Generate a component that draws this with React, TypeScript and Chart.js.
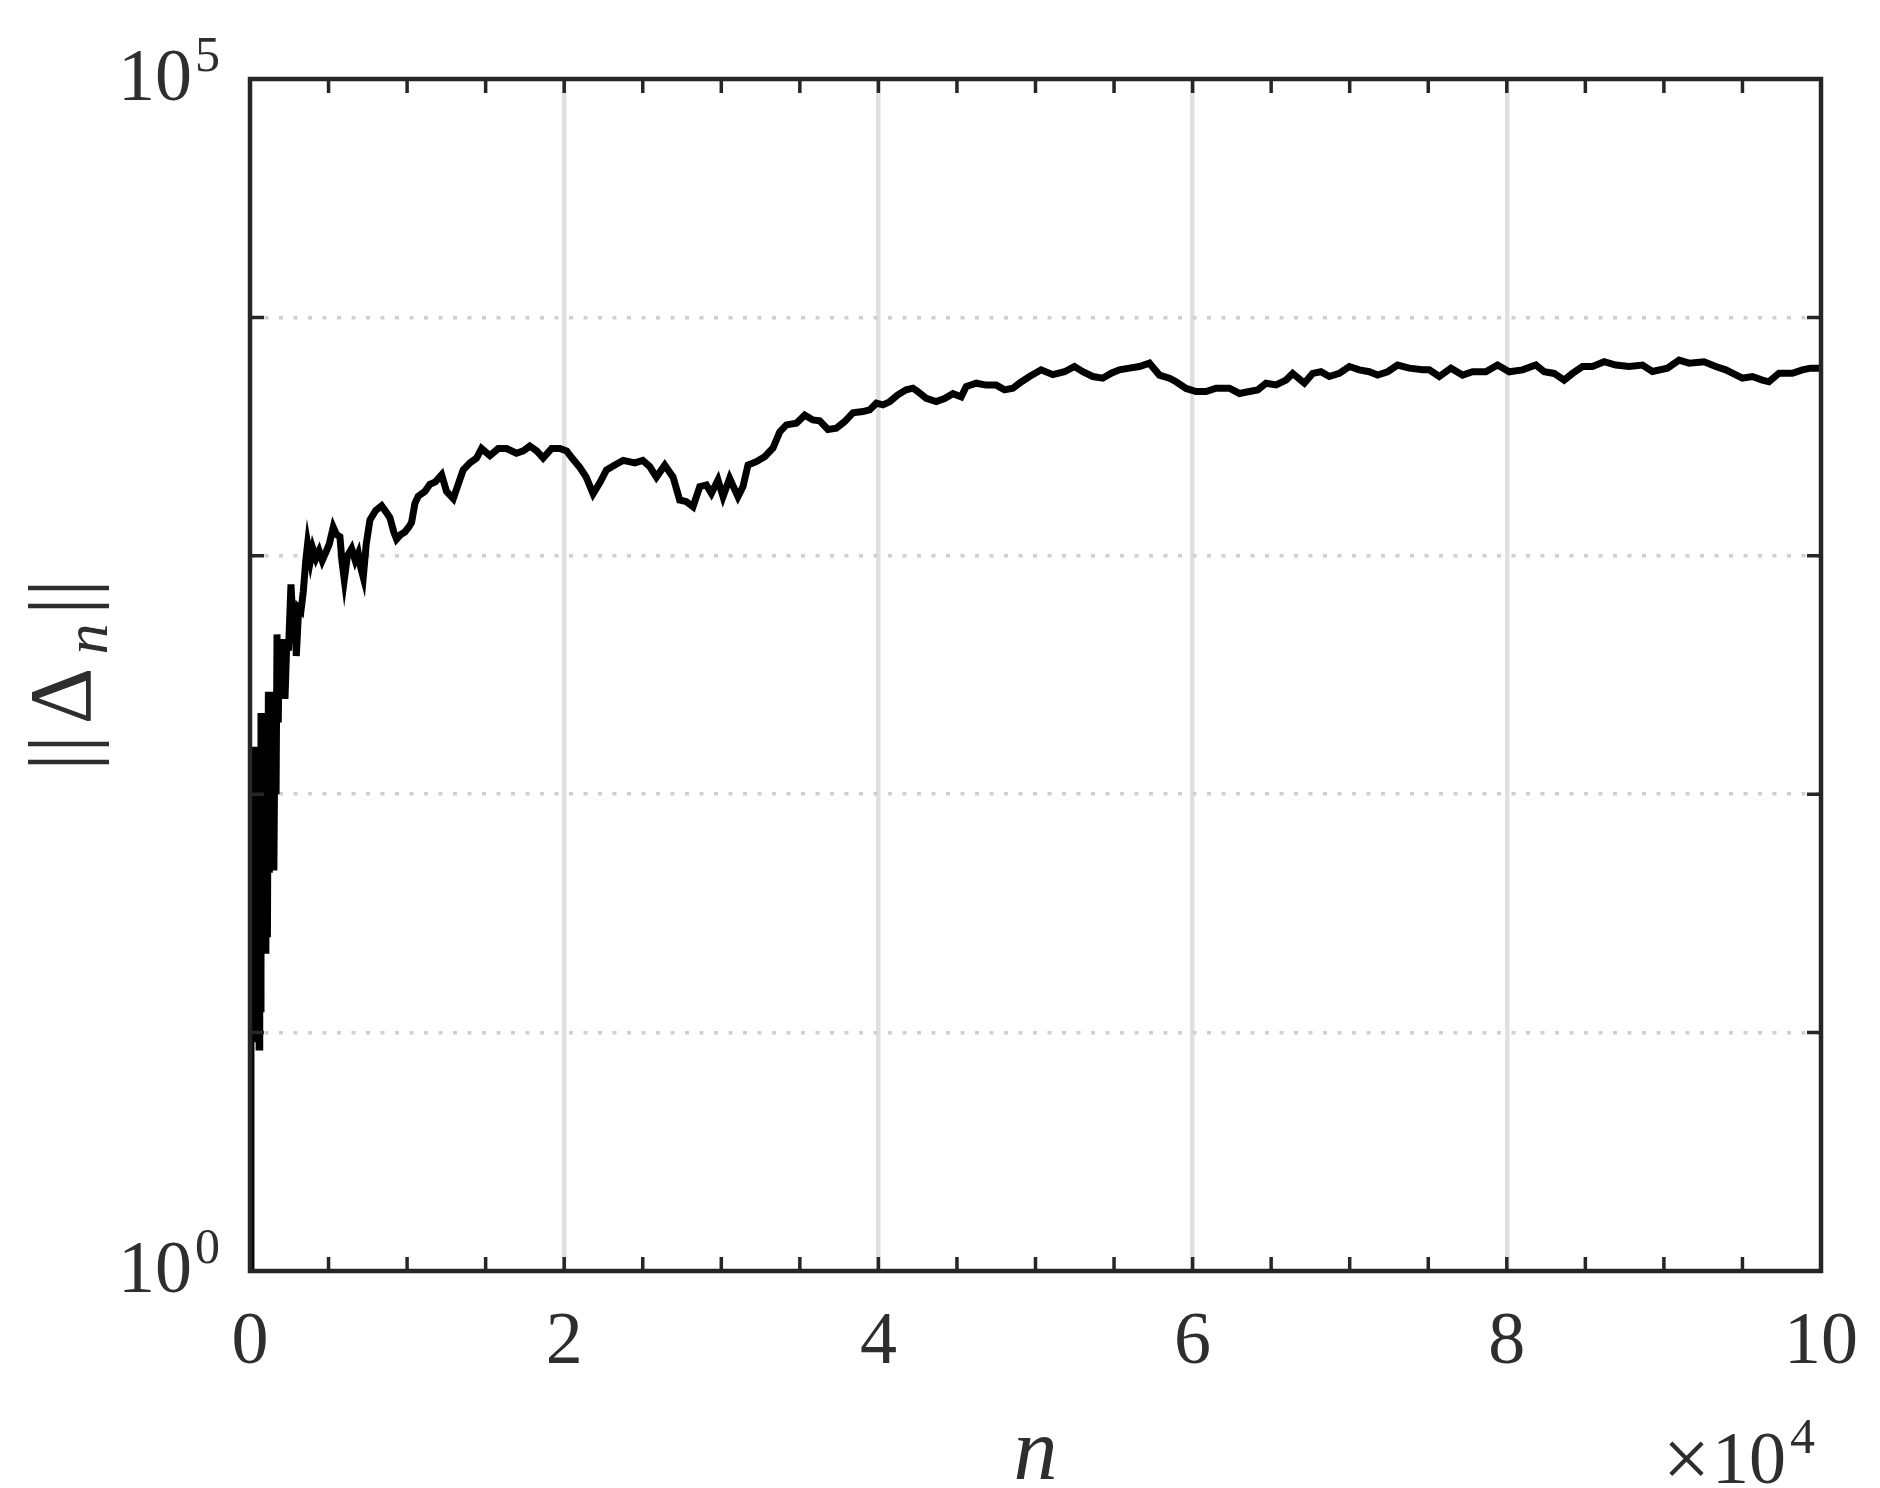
import React, { useEffect, useRef } from "react";
import { Chart, registerables } from "chart.js";

Chart.register(...registerables);

// iteration index n
const steps: number[] = [
  1, 60, 100, 140, 180, 220, 260, 300, 340, 380, 420, 460, 500, 540, 580, 620, 660, 700, 740, 780,
  820, 870, 920, 960, 1010, 1060, 1110, 1170, 1230, 1300, 1370, 1440, 1520, 1600, 1660, 1720, 1800, 1860, 1950, 2050,
  2226, 2350, 2450, 2608, 2750, 2850, 2947, 3100, 3244, 3393, 3550, 3668, 3850, 4000, 4200, 4400, 4600, 4800, 5050, 5300,
  5500, 5725, 5850, 6002, 6200, 6467, 6700, 6891, 7050, 7209, 7400, 7634, 8000, 8376, 8700, 8906, 9150, 9330, 9600, 9860,
  10100, 10284, 10500, 10708, 11132, 11450, 11800, 12200, 12510, 12940, 13250, 13570, 14000, 14420, 14740, 15270, 15800, 16330, 16960, 17400,
  17810, 18250, 18660, 19200, 19720, 20150, 20500, 21000, 21400, 21840, 22300, 22690, 23200, 23750, 24500, 25000, 25445, 25870, 26400, 26930,
  27350, 27780, 28200, 28630, 29050, 29370, 29790, 30110, 30530, 31060, 31380, 31700, 32230, 32760, 33290, 33720, 34140, 34780, 35310, 35830,
  36260, 36790, 37320, 37850, 38380, 39010, 39440, 39870, 40290, 40710, 41240, 41770, 42200, 42510, 43050, 43680, 44210, 44740, 45270, 45590,
  46230, 46860, 47500, 48030, 48560, 48980, 49620, 50360, 51100, 51850, 52480, 53010, 53650, 54280, 54820, 55340, 55980, 56616, 57252, 57888,
  58524, 58948, 59585, 60221, 60857, 61493, 62341, 62977, 63613, 64143, 64673, 65310, 65946, 66370, 67112, 67642, 68172, 68702, 69338, 69975,
  70611, 71247, 71777, 72413, 73049, 73791, 74639, 75064, 75700, 76442, 77184, 77820, 78668, 79410, 80153, 81001, 81850, 82380, 83016, 83652,
  84182, 84818, 85454, 86196, 86938, 87786, 88634, 89270, 90224, 90967, 91603, 92557, 93300, 93936, 94360, 94996, 95632, 96268, 96692, 97328,
  98176, 98812, 99343, 100000,
];

// ||Delta_n||
const norms: number[] = [
  1, 79.4, 10, 158, 12.6, 126, 9.55, 158, 15.8, 141, 9.12, 151, 11.2, 158, 8.71, 126, 12.6, 219, 31.6, 200,
  69.2, 219, 39.8, 200, 21.4, 219, 25.1, 269, 46.8, 251, 60, 269, 47.9, 251, 100, 468, 200, 447, 282, 447,
  251, 447, 400, 759, 500, 600, 380, 603, 589, 708, 955, 1122, 955, 1072, 977, 1047, 955, 1023, 1122, 1318,
  1230, 1202, 955, 794, 1000, 1072, 955, 1023, 891, 813, 1122, 1413, 1549, 1622, 1514, 1445, 1259, 1175, 1230, 1259,
  1318, 1380, 1660, 1778, 1862, 1995, 2042, 2188, 1862, 1738, 1995, 2291, 2455, 2570, 2818, 2630, 2818, 2818, 2692, 2754,
  2884, 2754, 2570, 2818, 2818, 2754, 2570, 2344, 2138, 1820, 2042, 2291, 2399, 2512, 2455, 2512, 2366, 2138, 2399, 2138,
  1714, 1687, 1607, 1950, 1982, 1828, 2080, 1770, 2113, 1770, 1950, 2404, 2483, 2606, 2831, 3311, 3540, 3597, 3890, 3715,
  3681, 3388, 3428, 3656, 3981, 4027, 4093, 4365, 4295, 4426, 4732, 4966, 5047, 4887, 4571, 4436, 4571, 4786, 4645, 5129,
  5297, 5200, 5200, 4966, 5047, 5297, 5649, 6026, 5754, 5916, 6223, 5916, 5649, 5559, 5834, 6026, 6124, 6223, 6427, 5728,
  5559, 5370, 5035, 4887, 4887, 5047, 5047, 4797, 4887, 4966, 5297, 5212, 5458, 5821, 5297, 5821, 5916, 5649, 5821, 6223,
  6026, 5916, 5728, 5916, 6310, 6124, 6026, 6026, 5649, 6124, 5728, 5916, 5916, 6310, 5916, 6026, 6310, 5916, 5821, 5458,
  5821, 6223, 6223, 6516, 6310, 6223, 6310, 5929, 6124, 6622, 6427, 6516, 6223, 6026, 5834, 5559, 5649, 5458, 5370, 5834,
  5834, 6026, 6124, 6124,
];

const xMinorTicks: number[] = [
  0, 5000, 10000, 15000, 20000, 25000, 30000, 35000, 40000, 45000, 50000,
  55000, 60000, 65000, 70000, 75000, 80000, 85000, 90000, 95000, 100000,
];
const xGridValues: number[] = [20000, 40000, 60000, 80000];
const xLabelValues: number[] = [0, 20000, 40000, 60000, 80000, 100000];
const xTickLabels: string[] = ["0", "2", "4", "6", "8", "10"];
const yTickValues: number[] = [1, 10, 100, 1000, 10000, 100000];
const yGridValues: number[] = [10, 100, 1000, 10000];
const yLabelValues: number[] = [1, 100000];
const yLabelExponents: string[] = ["0", "5"];

const INK = "#262626";
const TEXT = "#2e2e2e";
const SERIF = '"Liberation Serif", "DejaVu Serif", serif';

const axesPlugin = {
  id: "matlabAxes",
  afterDraw(chart: any) {
    const { ctx, chartArea: a } = chart;
    const x = chart.scales.x;
    const y = chart.scales.y;
    ctx.save();
    ctx.strokeStyle = INK;
    ctx.lineCap = "butt";
    // inward tick marks
    ctx.lineWidth = 3.5;
    ctx.beginPath();
    for (const v of xMinorTicks) {
      const px = x.getPixelForValue(v);
      ctx.moveTo(px, a.bottom);
      ctx.lineTo(px, a.bottom - 14);
      ctx.moveTo(px, a.top);
      ctx.lineTo(px, a.top + 14);
    }
    for (const v of yTickValues) {
      const py = y.getPixelForValue(v);
      ctx.moveTo(a.left, py);
      ctx.lineTo(a.left + 14, py);
      ctx.moveTo(a.right, py);
      ctx.lineTo(a.right - 14, py);
    }
    ctx.stroke();
    // box
    ctx.lineWidth = 4.5;
    ctx.strokeRect(a.left, a.top, a.right - a.left, a.bottom - a.top);

    ctx.fillStyle = TEXT;
    ctx.textBaseline = "alphabetic";
    // x tick labels
    ctx.font = `74px ${SERIF}`;
    ctx.textAlign = "center";
    xLabelValues.forEach((v, i) => {
      ctx.fillText(xTickLabels[i], x.getPixelForValue(v), a.bottom + 92);
    });
    // y tick labels 10^k
    yLabelValues.forEach((v, i) => {
      const py = y.getPixelForValue(v);
      ctx.textAlign = "right";
      ctx.font = `50px ${SERIF}`;
      const supRight = a.left - 30;
      ctx.fillText(yLabelExponents[i], supRight, py - 8);
      const supW = ctx.measureText(yLabelExponents[i]).width;
      ctx.font = `74px ${SERIF}`;
      ctx.fillText("10", supRight - supW - 3, py + 21);
    });
    // x10^4 multiplier
    const multBase = a.bottom + 212;
    ctx.textAlign = "right";
    ctx.font = `74px ${SERIF}`;
    ctx.fillText("10", a.right - 35, multBase);
    const tenW = ctx.measureText("10").width;
    ctx.font = `84px ${SERIF}`;
    ctx.fillText("\u00d7", a.right - 35 - tenW - 2, multBase + 4);
    ctx.textAlign = "left";
    ctx.font = `50px ${SERIF}`;
    ctx.fillText("4", a.right - 31, multBase - 30);

    // x axis label
    ctx.textAlign = "center";
    ctx.font = `italic 88px ${SERIF}`;
    ctx.fillText("n", (a.left + a.right) / 2, a.bottom + 208);

    // y axis label ||Δ_n||
    const cy = (a.top + a.bottom) / 2;
    ctx.save();
    ctx.translate(90, cy + 95);
    ctx.rotate(-Math.PI / 2);
    ctx.textAlign = "center";
    ctx.font = `88px ${SERIF}`;
    ctx.fillText("|", 8, 0);
    ctx.fillText("|", 26, 0);
    ctx.fillText("\u0394", 74, 0);
    ctx.font = `italic 62px ${SERIF}`;
    ctx.fillText("n", 131, 17);
    ctx.font = `88px ${SERIF}`;
    ctx.fillText("|", 164, 0);
    ctx.fillText("|", 182, 0);
    ctx.restore();

    ctx.restore();
  },
};

export default function App() {
  const ref = useRef<HTMLCanvasElement | null>(null);

  useEffect(() => {
    document.body.style.margin = "0";
    const canvas = ref.current;
    if (!canvas) return;
    const chart = new Chart(canvas, {
      type: "line",
      data: {
        datasets: [
          {
            data: steps.map((n, i) => ({ x: n, y: norms[i] })),
            borderColor: "#000000",
            borderWidth: 7,
            borderJoinStyle: "miter",
            pointRadius: 0,
            tension: 0,
            fill: false,
          },
        ],
      },
      options: {
        responsive: false,
        animation: false,
        devicePixelRatio: 1,
        layout: { padding: { left: 250, right: 59, top: 79, bottom: 217 } },
        plugins: { legend: { display: false }, tooltip: { enabled: false } },
        scales: {
          x: {
            type: "linear",
            min: 0,
            max: 100000,
            afterBuildTicks: (scale: any) => {
              scale.ticks = xGridValues.map((v) => ({ value: v }));
            },
            ticks: { display: false },
            grid: { color: "#e0e0e0", lineWidth: 4.5, drawTicks: false },
            border: { display: false },
          },
          y: {
            type: "logarithmic",
            min: 1,
            max: 100000,
            afterBuildTicks: (scale: any) => {
              scale.ticks = yGridValues.map((v) => ({ value: v }));
            },
            ticks: { display: false },
            grid: { color: "#cfcfcf", lineWidth: 3.5, drawTicks: false },
            border: { display: false, dash: [4, 10.5] },
          },
        },
      },
      plugins: [axesPlugin],
    });
    return () => chart.destroy();
  }, []);

  return (
    <canvas
      ref={ref}
      width={1880}
      height={1488}
      style={{ display: "block", width: 1880, height: 1488 }}
    />
  );
}
